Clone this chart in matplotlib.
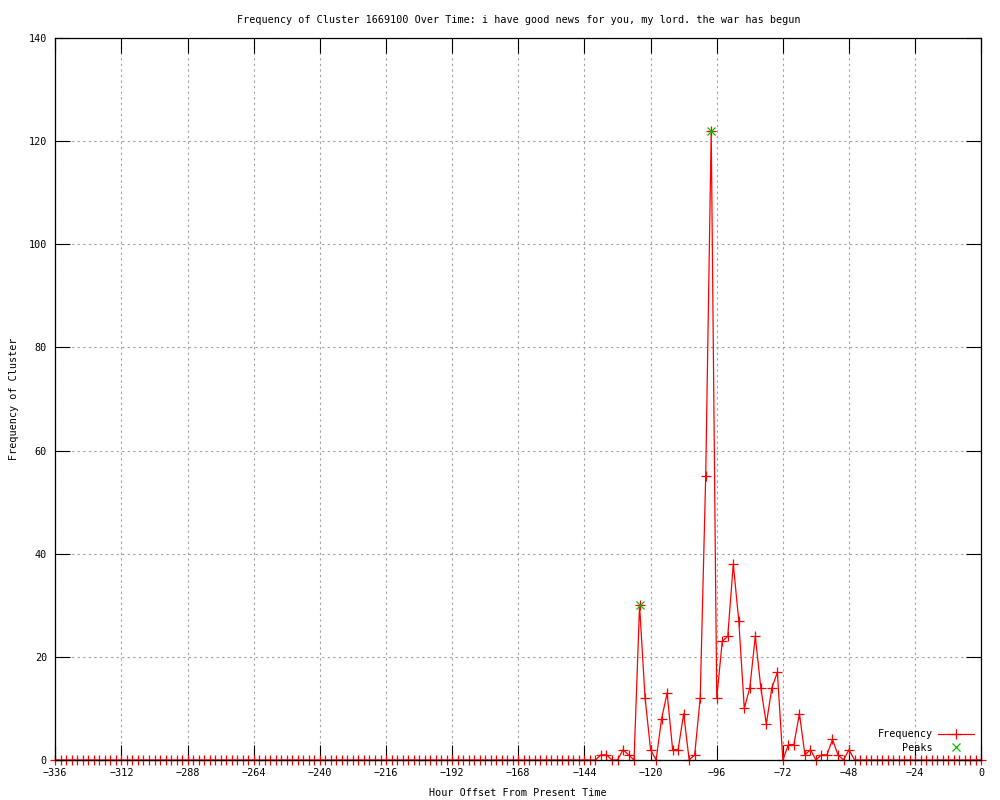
import numpy as np
import matplotlib
matplotlib.use('Agg')
import matplotlib.pyplot as plt

plt.rcParams['font.family'] = ['DejaVu Sans Mono']
plt.rcParams['font.size'] = 7.3

# sample times (every 2 hours) and the hours where the cluster was seen
hours = np.arange(-336, 1, 2)
active_hours = [-138, -136, -130, -128, -124, -122, -120, -116, -114, -112, -110,
                -108, -104, -102, -100, -98, -96, -94, -92, -90, -88, -86, -84,
                -82, -80, -78, -76, -74, -70, -68, -66, -64, -62, -58, -56, -54,
                -52, -48]
active_counts = [1, 1, 2, 1, 30, 12, 2, 8, 13, 2, 2,
                 9, 1, 12, 55, 122, 12, 23, 24, 38, 27, 10, 14,
                 24, 14, 7, 14, 17, 3, 3, 9, 1, 2, 1, 1, 4,
                 1, 2]
peak_hours = [-124, -98]
peak_counts = [30, 122]

freq = np.zeros(len(hours))
for h, c in zip(active_hours, active_counts):
    freq[list(hours).index(h)] = c

fig = plt.figure(figsize=(10, 8), dpi=100)
ax = fig.add_axes([0.0553, 0.05, 0.926, 0.9025])

ax.plot(hours, freq, color='#ff0000', linewidth=0.9, marker='+', markersize=7,
        markeredgewidth=0.9, label='Frequency', clip_on=False, zorder=3)
ax.plot(peak_hours, peak_counts, linestyle='none', color='#00c000', marker='x',
        markersize=6, markeredgewidth=0.9, label='Peaks', clip_on=False, zorder=4)

ax.set_xlim(-336, 0)
ax.set_ylim(0, 140)
ax.set_xticks(np.arange(-336, 1, 24))
ax.set_yticks(np.arange(0, 141, 20))
ax.tick_params(direction='in', length=10.5, width=0.8, top=True, right=True,
               labelsize=7.3, pad=6)
ax.grid(True, color='#a0a0a0', linestyle=(0, (2, 3)), linewidth=0.8)
for s in ax.spines.values():
    s.set_linewidth(0.9)
    s.set_zorder(5)

ax.set_title('Frequency of Cluster 1669100 Over Time: i have good news for you, my lord. the war has begun',
             fontsize=7.3, pad=11)
ax.set_xlabel('Hour Offset From Present Time', fontsize=7.3, labelpad=7)
ax.set_ylabel('Frequency of Cluster', fontsize=7.3, labelpad=7)

leg = ax.legend(loc='lower right', markerfirst=False, frameon=False, fontsize=7.3,
                handlelength=3.6, handletextpad=0.5, borderaxespad=0.3,
                labelspacing=0.35, bbox_to_anchor=(1.0, 0.0))

fig.savefig('out.png', dpi=100)
